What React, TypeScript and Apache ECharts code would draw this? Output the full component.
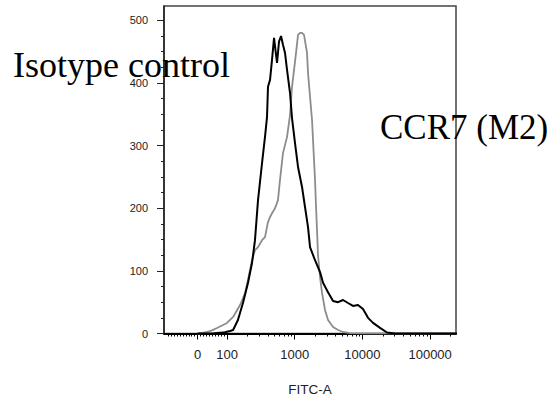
import React, { useEffect, useRef } from "react";
import * as echarts from "echarts";

// Fluorescence (FITC-A) values and event counts
const grayX = [0, 8, 32, 49, 66, 100, 123, 156, 185, 204, 234, 259, 287, 329, 364, 403, 432, 462, 512, 566, 606, 671, 719, 770, 853, 912, 977, 1046, 1119, 1198, 1282, 1372, 1520, 1572, 1683, 1802, 1864, 1995, 2065, 2135, 2208, 2365, 2531, 2803, 3104, 3681, 4366, 5169, 6558, 9220, 250000];
const grayY = [0, 0, 2.4, 5, 8.8, 16.8, 26.4, 45.5, 64.7, 85.5, 117, 133, 138, 149, 154, 178, 186, 192, 200, 213, 245, 288, 301, 314, 349, 394, 421, 448, 477, 480, 480, 477, 448, 416, 378, 341, 309, 245, 202, 165, 125, 90, 65, 37.5, 21.6, 10.4, 5.6, 2.4, 0.5, 0, 0];

const blackX = [0, 50, 83, 93, 111, 123, 145, 172, 204, 234, 259, 287, 329, 364, 390, 403, 432, 462, 495, 530, 548, 586, 628, 671, 719, 770, 853, 912, 1010, 1119, 1282, 1419, 1572, 1683, 1995, 2365, 2618, 3104, 3681, 4366, 5169, 6125, 7258, 8600, 10200, 12100, 14350, 18200, 23080, 30300, 250000];
const blackY = [0, 0, 1.5, 2, 4, 5.6, 21.6, 48.7, 80.7, 112.6, 149, 213, 272, 314, 346, 394, 405, 437, 472, 445, 432, 466, 475, 461, 448, 421, 384, 344, 304, 266, 234, 202, 170, 138, 117, 98, 81, 66, 52, 50, 53.5, 48.7, 44, 45.5, 39, 25, 17, 9, 1.6, 0, 0];

const xTickValues = [0, 100, 1000, 10000, 100000];
const xTickLabels = ["0", "100", "1000", "10000", "100000"];
const yTickValues = [0, 100, 200, 300, 400, 500];
const xAxisName = "FITC-A";
const isotypeLabel = "Isotype control";
const ccr7Label = "CCR7 (M2)";

const LN10 = Math.log(10);
// biexponential-like display transform: linear below 100, log10 above
function biex(v: number): number {
  return v <= 100 ? 2 + (v - 100) / (100 * LN10) : Math.log10(v);
}

function minorXTicks(): number[] {
  const out: number[] = [];
  for (let k = -100; k <= 90; k += 10) if (k !== 0) out.push(k);
  for (const d of [100, 1000, 10000]) for (let m = 2; m <= 9; m++) out.push(m * d);
  out.push(200000);
  return out.map(biex);
}
function minorYTicks(): number[] {
  const out: number[] = [];
  for (let v = 25; v < 523; v += 25) if (v % 100 !== 0) out.push(v);
  return out;
}

const X_MIN = 1.0694;
const X_MAX = 5.382;
const Y_MAX = 523;

export default function App() {
  const ref = useRef<HTMLDivElement>(null);
  useEffect(() => {
    if (!ref.current) return;
    const chart = echarts.init(ref.current, undefined, { renderer: "svg" });
    const majorT = xTickValues.map(biex);
    const labelFor = (t: number) => {
      let best = 0;
      for (let i = 0; i < majorT.length; i++) if (Math.abs(majorT[i] - t) < Math.abs(majorT[best] - t)) best = i;
      return xTickLabels[best];
    };
    chart.setOption({
      animation: false,
      grid: {
        left: 164,
        right: 97,
        top: 6,
        bottom: 68.5,
        show: true,
        borderColor: "#444",
        borderWidth: 1.5,
        backgroundColor: "transparent",
      },
      xAxis: [
        {
          type: "value",
          min: X_MIN,
          max: X_MAX,
          name: xAxisName,
          nameLocation: "middle",
          nameGap: 49,
          nameTextStyle: { fontFamily: "Liberation Sans", fontSize: 13.5, color: "#222" },
          axisLine: { show: true, lineStyle: { color: "#000", width: 2 } },
          axisTick: { show: true, length: 6, lineStyle: { color: "#000", width: 1 }, customValues: majorT },
          axisLabel: {
            show: true,
            customValues: majorT,
            formatter: (v: number) => labelFor(v),
            fontFamily: "Liberation Sans",
            fontSize: 13,
            color: "#222",
            margin: 14,
          },
          splitLine: { show: false },
        },
        {
          type: "value",
          min: X_MIN,
          max: X_MAX,
          position: "bottom",
          axisLine: { show: false },
          axisTick: { show: true, length: 3, lineStyle: { color: "#000", width: 1 }, customValues: minorXTicks() },
          axisLabel: { show: false },
          splitLine: { show: false },
        },
      ],
      yAxis: [
        {
          type: "value",
          min: 0,
          max: Y_MAX,
          axisLine: { show: true, lineStyle: { color: "#222", width: 1.5 } },
          axisTick: { show: true, length: 7, lineStyle: { color: "#222", width: 1 }, customValues: yTickValues },
          axisLabel: {
            show: true,
            customValues: yTickValues,
            fontFamily: "Liberation Sans",
            fontSize: 11,
            color: "#222",
            margin: 16,
          },
          splitLine: { show: false },
        },
        {
          type: "value",
          min: 0,
          max: Y_MAX,
          position: "left",
          axisLine: { show: false },
          axisTick: { show: true, length: 3, lineStyle: { color: "#222", width: 1 }, customValues: minorYTicks() },
          axisLabel: { show: false },
          splitLine: { show: false },
        },
      ],
      series: [
        {
          name: ccr7Label,
          type: "line",
          xAxisIndex: 0,
          yAxisIndex: 0,
          showSymbol: false,
          symbol: "none",
          lineStyle: { color: "#8c8c8c", width: 1.8 },
          data: grayX.map((x, i) => [biex(x), grayY[i]]),
          z: 2,
        },
        {
          name: isotypeLabel,
          type: "line",
          xAxisIndex: 0,
          yAxisIndex: 0,
          showSymbol: false,
          symbol: "none",
          lineStyle: { color: "#000", width: 2 },
          data: blackX.map((x, i) => [biex(x), blackY[i]]),
          z: 3,
        },
      ],
      graphic: [
        {
          type: "text",
          left: 13,
          top: 47,
          z: 1,
          style: { text: isotypeLabel, font: '36px "Liberation Serif"', fill: "#000" },
        },
        {
          type: "text",
          left: 380,
          top: 110,
          z: 1,
          style: { text: ccr7Label, font: '35px "Liberation Serif"', fill: "#000" },
        },
      ],
    });
    return () => chart.dispose();
  }, []);
  return (
    <div
      ref={ref}
      style={{ position: "fixed", left: 0, top: 0, width: 553, height: 402, background: "#fff" }}
    />
  );
}
